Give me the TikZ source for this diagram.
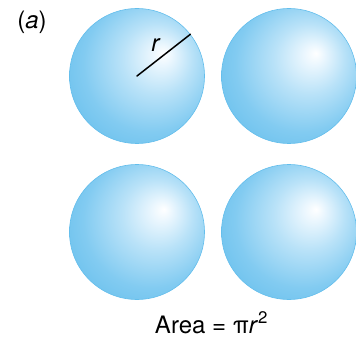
\documentclass[tikz,border=0pt]{standalone}
\usepackage{fontspec}
\setmainfont{TeX Gyre Heros}
\definecolor{bubedge}{RGB}{100,190,236}
\definecolor{bubmid}{RGB}{130,203,241}
\definecolor{bublight}{RGB}{185,226,248}
\definecolor{bubpale}{RGB}{236,247,254}
\pgfdeclareradialshading{bubble}{\pgfpoint{10bp}{8.5bp}}{%
  color(0bp)=(white);
  color(3.5bp)=(bubpale);
  color(13bp)=(bublight);
  color(25bp)=(bubmid);
  color(36bp)=(bubedge);
  color(50bp)=(bubedge)}
\tikzset{
  bub/.style={circle, minimum size=135pt, inner sep=0pt, shading=bubble, draw=bubedge, line width=0.6pt},
  lbl/.style={inner sep=0pt, font=\fontsize{24}{28}\selectfont}
}
\begin{document}
\begin{tikzpicture}[x=1pt,y=1pt]
\useasboundingbox (0,0) rectangle (356,338);
\node[bub] (c1) at (137,262) {};
\node[bub] (c2) at (289,262) {};
\node[bub] (c3) at (137,106) {};
\node[bub] (c4) at (289,106) {};
\draw[line width=1.5pt, line cap=round] (c1.center) -- (c1.38);
\node[lbl] (r) at (156,293) {\textit{r}};
\node[lbl] (a) at (32,316) {(\textit{a})};
\node[lbl, anchor=base] (area) at (211.5,5) {Area = π\textit{r}\textsuperscript{2}};
\end{tikzpicture}
\end{document}
